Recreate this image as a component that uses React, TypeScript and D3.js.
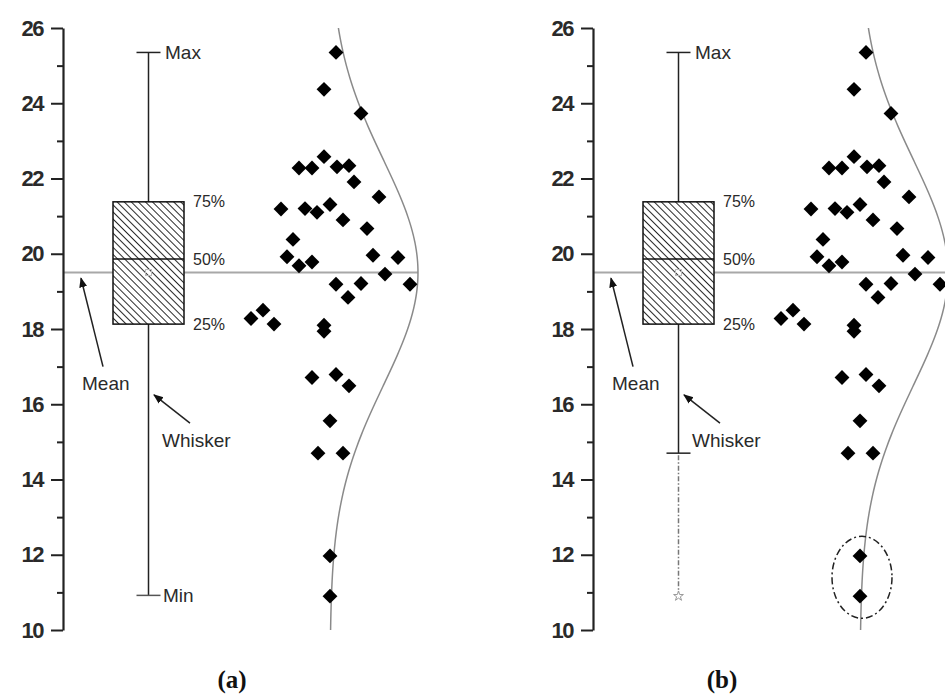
import React, { useEffect, useRef } from 'react'
import * as d3 from 'd3'

// y values of the scattered points
const pointValues = [25.35, 24.37, 23.73, 22.58, 22.28, 22.28, 22.31, 22.34, 21.91, 21.51,
  21.19, 21.2, 21.1, 21.31, 20.9, 20.67, 20.38, 19.92, 19.68, 19.78,
  19.96, 19.9, 19.46, 19.19, 19.21, 19.19, 18.84, 18.28, 18.5, 18.13,
  18.1, 17.94, 16.71, 16.79, 16.49, 15.56, 14.7, 14.7, 11.97, 10.9]
// horizontal jitter of each point, in panel x units
const pointJitter = [2.73, 2.61, 2.98, 2.61, 2.36, 2.49, 2.74, 2.86, 2.91, 3.16,
  2.18, 2.42, 2.54, 2.67, 2.8, 3.04, 2.3, 2.24, 2.36, 2.49,
  3.1, 3.35, 3.22, 2.73, 2.98, 3.47, 2.85, 1.88, 2.0, 2.11,
  2.61, 2.61, 2.49, 2.73, 2.86, 2.67, 2.55, 2.8, 2.67, 2.67]

const boxStats = { min: 10.92, q1: 18.13, median: 19.86, q3: 21.38, max: 25.35, mean: 19.5 }
const whiskerLowB = 14.7
const outlierMinB = 10.9
const curveMean = 19.5
const curveSd = 3.0

const majorTicks = [10, 12, 14, 16, 18, 20, 22, 24, 26]
const minorTicks = [11, 13, 15, 17, 19, 21, 23, 25]

const panels = [
  { key: 'a', left: 63, title: '(a)', titleX: 232 },
  { key: 'b', left: 593, title: '(b)', titleX: 722 },
]

const W = 945
const H = 695
const font = 'Arial, "Liberation Sans", sans-serif'

export default function App() {
  const ref = useRef<SVGSVGElement>(null)

  useEffect(() => {
    const svg = d3.select(ref.current)
    svg.selectAll('*').remove()

    const y = d3.scaleLinear().domain([10, 26]).range([630, 28])
    const x = d3.scaleLinear().domain([0, 3.55]).range([0, 355])

    const defs = svg.append('defs')
    const pat = defs.append('pattern')
      .attr('id', 'hatch')
      .attr('width', 5).attr('height', 5)
      .attr('patternUnits', 'userSpaceOnUse')
      .attr('patternTransform', 'rotate(-45)')
    pat.append('rect').attr('width', 5).attr('height', 5).attr('fill', '#fff')
    pat.append('line').attr('x1', 0).attr('y1', 0).attr('x2', 0).attr('y2', 5)
      .attr('stroke', '#111').attr('stroke-width', 1.8)
    defs.append('marker')
      .attr('id', 'arrow')
      .attr('viewBox', '0 0 10 10')
      .attr('refX', 9).attr('refY', 5)
      .attr('markerWidth', 10).attr('markerHeight', 10)
      .attr('markerUnits', 'userSpaceOnUse')
      .attr('orient', 'auto')
      .append('path').attr('d', 'M0,1 L10,5 L0,9 Z').attr('fill', '#111')

    panels.forEach(p => {
      const g = svg.append('g').attr('transform', `translate(${p.left},0)`)

      // mean line
      g.append('line')
        .attr('x1', 0).attr('x2', x(3.55))
        .attr('y1', y(boxStats.mean)).attr('y2', y(boxStats.mean))
        .attr('stroke', '#a8a8a8').attr('stroke-width', 2)

      // axis
      const ax = g.append('g')
      ax.call(d3.axisLeft(y).tickValues(majorTicks).tickSize(12).tickSizeOuter(0).tickFormat(d3.format('d')))
      ax.append('g').call(d3.axisLeft(y).tickValues(minorTicks).tickSize(6).tickFormat(() => ''))
        .call(s => s.select('.domain').remove())
      ax.selectAll('.domain').attr('stroke', '#222').attr('stroke-width', 2.2)
      ax.selectAll('.tick line').attr('stroke', '#222').attr('stroke-width', 2)
      ax.selectAll('.tick text')
        .attr('x', -20)
        .attr('font-family', font).attr('font-size', 22).attr('font-weight', 'bold')
        .attr('letter-spacing', -1.5)
        .attr('fill', '#2a2a2a')

      const bx = 0.855
      const bw = 0.71
      const lowW = p.key === 'a' ? boxStats.min : whiskerLowB

      // whiskers
      g.append('line').attr('x1', x(bx)).attr('x2', x(bx))
        .attr('y1', y(boxStats.max)).attr('y2', y(boxStats.q3))
        .attr('stroke', '#222').attr('stroke-width', 1.5)
      g.append('line').attr('x1', x(bx)).attr('x2', x(bx))
        .attr('y1', y(boxStats.q1)).attr('y2', y(lowW))
        .attr('stroke', '#222').attr('stroke-width', 1.5)
      g.append('line').attr('x1', x(bx) - 12).attr('x2', x(bx) + 12)
        .attr('y1', y(boxStats.max)).attr('y2', y(boxStats.max))
        .attr('stroke', '#222').attr('stroke-width', 1.5)
      g.append('line').attr('x1', x(bx) - 12).attr('x2', x(bx) + 12)
        .attr('y1', y(lowW)).attr('y2', y(lowW))
        .attr('stroke', p.key === 'a' ? '#555' : '#222').attr('stroke-width', 1.5)

      if (p.key === 'b') {
        g.append('line').attr('x1', x(bx)).attr('x2', x(bx))
          .attr('y1', y(lowW) + 2).attr('y2', y(outlierMinB) - 4)
          .attr('stroke', '#777').attr('stroke-width', 1.5)
          .attr('stroke-dasharray', '5,2,1.5,2')
        g.append('path')
          .attr('transform', `translate(${x(bx)},${y(outlierMinB)})`)
          .attr('d', d3.symbol(d3.symbolStar, 30)())
          .attr('fill', 'none').attr('stroke', '#999').attr('stroke-width', 1)
      }

      // box
      g.append('rect')
        .attr('x', x(bx - bw / 2)).attr('width', x(bw))
        .attr('y', y(boxStats.q3)).attr('height', y(boxStats.q1) - y(boxStats.q3))
        .attr('fill', 'url(#hatch)').attr('stroke', '#111').attr('stroke-width', 1.5)
      g.append('line')
        .attr('x1', x(bx - bw / 2)).attr('x2', x(bx + bw / 2))
        .attr('y1', y(boxStats.median)).attr('y2', y(boxStats.median))
        .attr('stroke', '#111').attr('stroke-width', 1.5)
      g.append('rect')
        .attr('x', x(bx) - 3).attr('y', y(boxStats.mean) - 3)
        .attr('width', 6).attr('height', 6)
        .attr('fill', 'none').attr('stroke', '#bbb').attr('stroke-width', 1)

      // labels
      const lab = (tx: number, ty: number, t: string, size: number) =>
        g.append('text').attr('x', x(tx)).attr('y', y(ty)).attr('dy', '0.35em')
          .attr('font-family', font).attr('font-size', size).attr('fill', '#2a2a2a').text(t)
      lab(1.02, boxStats.max, 'Max', 19)
      if (p.key === 'a') lab(1.0, boxStats.min, 'Min', 19)
      lab(1.3, boxStats.q3, '75%', 16)
      lab(1.3, boxStats.median, '50%', 16)
      lab(1.3, boxStats.q1, '25%', 16)
      g.append('text').attr('x', x(0.19)).attr('y', y(16.38))
        .attr('font-family', font).attr('font-size', 19).attr('fill', '#2a2a2a').text('Mean')
      g.append('text').attr('x', x(0.99)).attr('y', y(14.87))
        .attr('font-family', font).attr('font-size', 19).attr('fill', '#2a2a2a').text('Whisker')

      // arrows
      g.append('line').attr('x1', x(0.40)).attr('y1', y(17.0))
        .attr('x2', x(0.18)).attr('y2', y(19.35))
        .attr('stroke', '#222').attr('stroke-width', 1.5).attr('marker-end', 'url(#arrow)')
      g.append('line').attr('x1', x(1.27)).attr('y1', y(15.5))
        .attr('x2', x(0.91)).attr('y2', y(16.25))
        .attr('stroke', '#222').attr('stroke-width', 1.5).attr('marker-end', 'url(#arrow)')

      // normal curve
      const base = 2.67
      const amp = 0.88
      const ys = d3.range(10, 26.001, 0.1)
      const curve = d3.line<number>()
        .x(v => x(base + amp * Math.exp(-0.5 * ((v - curveMean) / curveSd) ** 2)))
        .y(v => y(v))
        .curve(d3.curveBasis)
      g.append('path').attr('d', curve(ys))
        .attr('fill', 'none').attr('stroke', '#8a8a8a').attr('stroke-width', 1.5)

      // points
      g.selectAll('path.pt').data(pointValues).enter().append('path')
        .attr('class', 'pt')
        .attr('transform', (v, i) => `translate(${x(pointJitter[i])},${y(v)}) rotate(45)`)
        .attr('d', d3.symbol(d3.symbolSquare, 110)())
        .attr('fill', '#000')

      if (p.key === 'b') {
        g.append('ellipse')
          .attr('cx', x(2.69)).attr('cy', y(11.4))
          .attr('rx', 30).attr('ry', 41)
          .attr('fill', 'none').attr('stroke', '#222').attr('stroke-width', 1.5)
          .attr('stroke-dasharray', '7,3,2,3')
      }

      svg.append('text').attr('x', p.titleX).attr('y', 688)
        .attr('text-anchor', 'middle')
        .attr('font-family', '"Liberation Serif", "Times New Roman", serif')
        .attr('font-size', 25).attr('font-weight', 'bold').attr('fill', '#111')
        .text(p.title)
    })
  }, [])

  return (
    <svg ref={ref} width={W} height={H}
      style={{ position: 'absolute', left: 0, top: 0, background: '#fff' }} />
  )
}
